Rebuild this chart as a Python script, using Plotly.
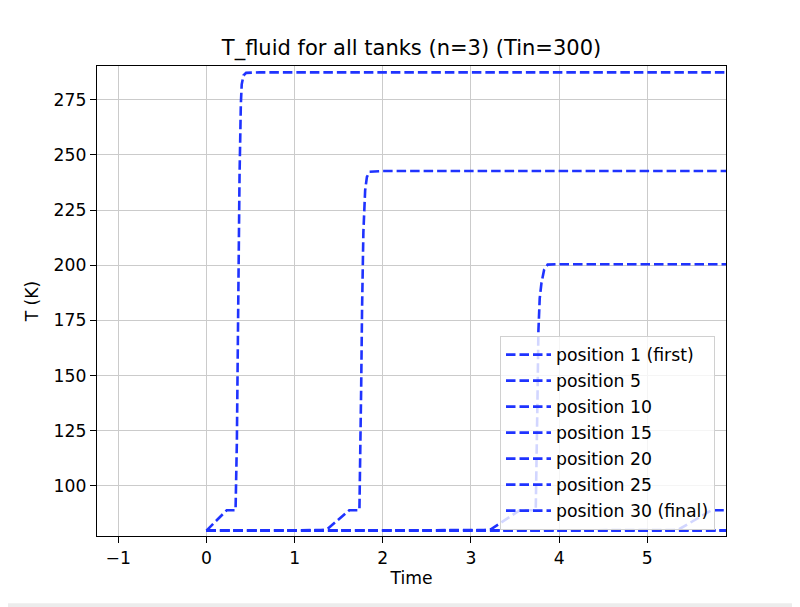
import plotly.graph_objects as go

# T_fluid readings per position (time, temperature in K)
time_pos1 = [0.0, 0.23, 0.33, 0.345, 0.355, 0.365, 0.375, 0.39, 0.40, 0.42, 0.45, 0.6, 6.0]
temp_pos1 = [79.8, 89.0, 89.0, 120.0, 160.0, 205.0, 240.0, 273.0, 282.0, 286.0, 287.2, 287.4, 287.4]

time_pos5 = [0.0, 1.30, 1.37, 1.62, 1.735, 1.745, 1.755, 1.765, 1.78, 1.80, 1.82, 1.85, 2.0, 6.0]
temp_pos5 = [79.8, 80.0, 80.4, 89.0, 89.0, 110.0, 145.0, 180.0, 215.0, 234.0, 240.0, 242.4, 242.7, 242.7]

time_pos10 = [0.0, 3.15, 3.23, 3.555, 3.735, 3.745, 3.755, 3.765, 3.78, 3.80, 3.83, 3.87, 4.0, 6.0]
temp_pos10 = [79.8, 80.0, 80.5, 89.0, 89.0, 110.0, 140.0, 170.0, 185.0, 192.0, 198.0, 200.3, 200.5, 200.5]

time_pos15 = [0.0, 5.30, 5.36, 5.73, 6.0]
temp_pos15 = [79.8, 80.0, 80.4, 89.0, 89.0]

time_pos20 = [0.0, 6.0]
temp_pos20 = [79.8, 79.8]

time_pos25 = [0.0, 6.0]
temp_pos25 = [79.8, 79.8]

time_pos30 = [0.0, 6.0]
temp_pos30 = [79.8, 79.8]

labels = ["position 1 (first)", "position 5", "position 10", "position 15",
          "position 20", "position 25", "position 30 (final)"]

y_ticks = [100, 125, 150, 175, 200, 225, 250, 275]
x_ticks = [-1, 0, 1, 2, 3, 4, 5]

series = [
    (time_pos1, temp_pos1),
    (time_pos5, temp_pos5),
    (time_pos10, temp_pos10),
    (time_pos15, temp_pos15),
    (time_pos20, temp_pos20),
    (time_pos25, temp_pos25),
    (time_pos30, temp_pos30),
]

FONT = "DejaVu Sans"
fig = go.Figure()

for i, ((t, v), name) in enumerate(zip(series, labels)):
    fig.add_trace(go.Scatter(
        x=t, y=v, mode="lines", name=name, legendgroup="g%d" % i,
        line=dict(color="#1f33ff", width=2.6, dash="9.5px,4px"),
    ))

# page body has an 8px margin, so the figure is 8px smaller each way
fig.update_layout(
    width=792, height=599,
    margin=dict(l=89, r=74, t=58, b=71),
    paper_bgcolor="white", plot_bgcolor="white",
    font=dict(family=FONT, size=17.2, color="black"),
    title=dict(text="T_fluid for all tanks (n=3) (Tin=300)", x=0.5, xanchor="center",
               xref="paper", y=0.9332, yref="container", yanchor="middle",
               font=dict(size=21)),
    showlegend=True,
    legend=dict(x=0.6407, y=0.013, xanchor="left", yanchor="bottom",
                bgcolor="rgba(255,255,255,0.8)", bordercolor="#d0d0d0", borderwidth=1,
                font=dict(size=17.3), tracegroupgap=0.5, traceorder="grouped",
                itemwidth=45),
    shapes=[dict(type="rect", xref="paper", yref="paper", x0=-0.2, x1=1.2,
                 y0=-0.151, y1=-0.143, fillcolor="#ececec", line=dict(width=0), layer="below")],
)

fig.update_xaxes(
    range=[-1.2415, 5.893], tickvals=x_ticks, ticktext=["\u22121"] + [str(x) for x in x_ticks[1:]],
    showgrid=True, gridcolor="#cbcbcb", gridwidth=1, zeroline=False,
    showline=True, linecolor="black", linewidth=1.3, mirror=True,
    ticks="outside", ticklen=6, tickcolor="black", tickwidth=1.2,
    title=dict(text="Time", standoff=5, font=dict(size=17.2)),
)
fig.update_yaxes(
    range=[77.33, 290.3], tickvals=y_ticks,
    showgrid=True, gridcolor="#cbcbcb", gridwidth=1, zeroline=False,
    showline=True, linecolor="black", linewidth=1.3, mirror=True,
    ticks="outside", ticklen=6, tickcolor="black", tickwidth=1.2,
    title=dict(text="T (K)", standoff=10, font=dict(size=17.2)),
)

fig.write_html("out.html")
